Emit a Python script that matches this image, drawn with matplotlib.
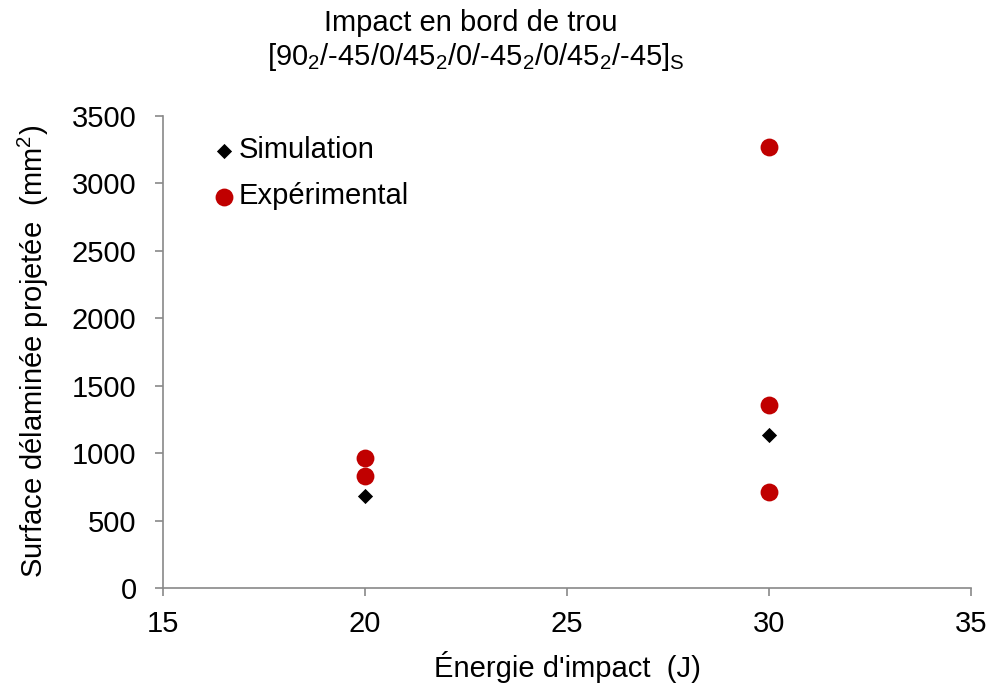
import matplotlib
matplotlib.use('Agg')
import matplotlib.pyplot as plt

plt.rcParams['font.family'] = ['Liberation Sans', 'DejaVu Sans']
plt.rcParams['mathtext.fontset'] = 'custom'
plt.rcParams['mathtext.rm'] = 'Liberation Sans'
plt.rcParams['mathtext.it'] = 'Liberation Sans:italic'
plt.rcParams['mathtext.default'] = 'regular'

# data
sim_energy = [20, 30]
sim_area = [682, 1134]
exp_energy = [20, 20, 30, 30, 30]
exp_area = [964, 830, 3270, 1357, 712]

xticks = [15, 20, 25, 30, 35]
yticks = [0, 500, 1000, 1500, 2000, 2500, 3000, 3500]

fs = 21

fig = plt.figure(figsize=(9.95, 6.84), dpi=100)
ax = fig.add_axes([0.1638, 0.1404, 0.812, 0.69])

ax.scatter(sim_energy, sim_area, marker='D', s=60, color='black', zorder=3,
           label='Simulation', linewidths=0)
ax.scatter(exp_energy, exp_area, marker='o', s=165, color='#c00000', zorder=2,
           label='Expérimental', linewidths=0)

ax.set_xlim(15, 35)
ax.set_ylim(0, 3500)
ax.set_xticks(xticks)
ax.set_yticks(yticks)

grey = '#898989'
for side in ['top', 'right']:
    ax.spines[side].set_visible(False)
for side in ['left', 'bottom']:
    ax.spines[side].set_color(grey)
    ax.spines[side].set_linewidth(1.2)
ax.tick_params(axis='both', direction='out', length=6, width=1.2, color=grey,
               labelsize=fs, labelcolor='black')
ax.tick_params(axis='x', pad=10)
ax.tick_params(axis='y', pad=13)

ax.set_xlabel("Énergie d'impact  (J)", fontsize=fs, labelpad=9)
ax.set_ylabel("Surface délaminée projetée  (mm$^2$)", fontsize=fs, labelpad=15)

fig.text(0.473, 0.967, "Impact en bord de trou", ha='center', va='center', fontsize=fs)
fig.text(0.478, 0.917, r"[90$_2$/-45/0/45$_2$/0/-45$_2$/0/45$_2$/-45]$_\mathrm{S}$",
         ha='center', va='center', fontsize=fs)

ax.legend(loc='upper left', bbox_to_anchor=(0.04, 0.982), frameon=False,
          fontsize=fs, handletextpad=-0.1, labelspacing=0.62, borderaxespad=0,
          handlelength=1.2)

fig.savefig('out.png', dpi=100)
